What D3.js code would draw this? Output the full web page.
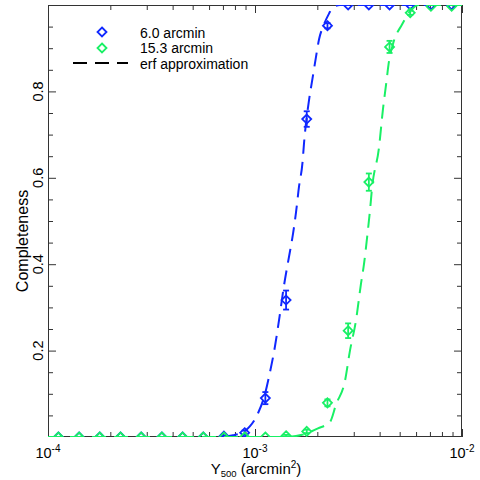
<!DOCTYPE html>
<html>
<head>
<meta charset="utf-8">
<script src="https://cdn.jsdelivr.net/npm/d3@7/dist/d3.min.js"></script>
<style>
  html, body { margin: 0; padding: 0; background: #fff; }
  svg { display: block; font-family: "Liberation Sans", Arial, Helvetica, sans-serif; }
</style>
</head>
<body>
<svg id="chart" width="480" height="480"></svg>
<script>
// ---------------- data ----------------
const binCenters = [1.122e-4, 1.413e-4, 1.778e-4, 2.239e-4, 2.818e-4, 3.548e-4, 4.467e-4, 5.623e-4, 7.079e-4, 8.913e-4,
                    1.122e-3, 1.413e-3, 1.778e-3, 2.239e-3, 2.818e-3, 3.548e-3, 4.467e-3, 5.623e-3, 7.079e-3, 8.913e-3];
const blueValues  = [0, 0, 0, 0, 0, 0, 0, 0, 0.002, 0.010, 0.090, 0.317, 0.736, 0.952, 1, 1, 1, 1, 1, 1];
const blueErrors  = [0, 0, 0, 0, 0, 0, 0, 0, 0.002, 0.005, 0.014, 0.022, 0.018, 0.006, 0, 0, 0, 0, 0, 0];
const greenValues = [0, 0, 0, 0, 0, 0, 0, 0, 0, 0, 0, 0.003, 0.013, 0.079, 0.246, 0.590, 0.903, 0.982, 0.997, 0.997];
const greenErrors = [0, 0, 0, 0, 0, 0, 0, 0, 0, 0, 0, 0.002, 0.004, 0.008, 0.017, 0.020, 0.014, 0.005, 0, 0];

const blueCurveX = [1.0e-4, 6.20e-4, 7.00e-4, 7.83e-4, 8.46e-4, 9.46e-4, 1.034e-3, 1.118e-3, 1.181e-3, 1.249e-3, 1.306e-3,
                    1.380e-3, 1.476e-3, 1.526e-3, 1.578e-3, 1.632e-3, 1.696e-3, 1.725e-3, 1.824e-3, 1.896e-3, 1.971e-3,
                    2.038e-3, 2.154e-3, 2.278e-3, 2.381e-3, 2.574e-3, 1.0e-2];
const blueCurveY = [0, 0, 0.001, 0.004, 0.008, 0.025, 0.055, 0.100, 0.150, 0.210, 0.270,
                    0.350, 0.430, 0.470, 0.520, 0.580, 0.635, 0.680, 0.780, 0.830, 0.880,
                    0.920, 0.955, 0.980, 0.995, 1.0, 1.0];
const greenCurveX = [1.0e-4, 1.40e-3, 1.687e-3, 2.015e-3, 2.303e-3, 2.462e-3, 2.721e-3, 2.876e-3, 3.075e-3, 3.251e-3,
                     3.361e-3, 3.476e-3, 3.594e-3, 3.674e-3, 3.972e-3, 4.154e-3, 4.295e-3, 4.440e-3, 4.642e-3, 5.131e-3,
                     5.610e-3, 6.130e-3, 1.0e-2];
const greenCurveY = [0, 0, 0.005, 0.020, 0.035, 0.075, 0.130, 0.200, 0.270, 0.355,
                     0.400, 0.460, 0.525, 0.575, 0.670, 0.760, 0.815, 0.870, 0.910, 0.955,
                     0.985, 1.0, 1.0];

const seriesNames = ["6.0 arcmin", "15.3 arcmin", "erf approximation"];
const xMajorTicks = [1e-4, 1e-3, 1e-2];
const xTickExponents = ["-4", "-3", "-2"];
const xMinorTicks = [2e-4, 3e-4, 4e-4, 5e-4, 6e-4, 7e-4, 8e-4, 9e-4, 2e-3, 3e-3, 4e-3, 5e-3, 6e-3, 7e-3, 8e-3, 9e-3];
const yMajorTicks = [0.2, 0.4, 0.6, 0.8];
const yTickLabels = ["0.2", "0.4", "0.6", "0.8"];
const yMinorTicks = [0.05, 0.1, 0.15, 0.25, 0.3, 0.35, 0.45, 0.5, 0.55, 0.65, 0.7, 0.75, 0.85, 0.9, 0.95];

// ---------------- layout ----------------
const L = 48, R = 462, T = 5, B = 437;
const BLUE = "#1028ff", GREEN = "#19f065", AXIS = "#333";

const svg = d3.select("#chart");
const x = d3.scaleLog().domain([1e-4, 1e-2]).range([L, R]);
const y = d3.scaleLinear().domain([0, 1]).range([B, T]);

svg.append("defs").append("clipPath").attr("id", "plotclip")
  .append("rect").attr("x", L).attr("y", T).attr("width", R - L).attr("height", B - T);

// axes (ticks inward)
function styleAxis(g) {
  g.select(".domain").remove();
  g.selectAll(".tick line").attr("stroke", AXIS).attr("stroke-width", 1);
  g.selectAll(".tick text").remove();
}
svg.append("g").attr("transform", `translate(0,${B})`).call(d3.axisBottom(x).tickValues(xMajorTicks).tickSize(-8)).call(styleAxis);
svg.append("g").attr("transform", `translate(0,${B})`).call(d3.axisBottom(x).tickValues(xMinorTicks).tickSize(-5)).call(styleAxis);
svg.append("g").attr("transform", `translate(0,${T})`).call(d3.axisTop(x).tickValues(xMajorTicks).tickSize(-8)).call(styleAxis);
svg.append("g").attr("transform", `translate(0,${T})`).call(d3.axisTop(x).tickValues(xMinorTicks).tickSize(-5)).call(styleAxis);
svg.append("g").attr("transform", `translate(${L},0)`).call(d3.axisLeft(y).tickValues(yMajorTicks).tickSize(-8)).call(styleAxis);
svg.append("g").attr("transform", `translate(${L},0)`).call(d3.axisLeft(y).tickValues(yMinorTicks).tickSize(-5)).call(styleAxis);
svg.append("g").attr("transform", `translate(${R},0)`).call(d3.axisRight(y).tickValues(yMajorTicks).tickSize(-8)).call(styleAxis);
svg.append("g").attr("transform", `translate(${R},0)`).call(d3.axisRight(y).tickValues(yMinorTicks).tickSize(-5)).call(styleAxis);

// frame
svg.append("rect").attr("x", L + 0.5).attr("y", T + 0.5).attr("width", R - L - 1).attr("height", B - T - 1)
  .attr("fill", "none").attr("stroke", AXIS).attr("stroke-width", 1);

// x tick labels 10^n
const xl = svg.append("g").selectAll("text").data(xMajorTicks).join("text")
  .attr("x", d => x(d)).attr("y", 458).attr("text-anchor", "middle")
  .attr("font-size", 14.5).attr("fill", "#000");
xl.append("tspan").text("10");
xl.append("tspan").attr("font-size", 10).attr("dy", -6).text((d, i) => xTickExponents[i]);

// y tick labels (rotated)
svg.append("g").selectAll("text").data(yMajorTicks).join("text")
  .attr("transform", d => `translate(43,${y(d)}) rotate(-90)`)
  .attr("text-anchor", "middle").attr("font-size", 14.5).attr("fill", "#000")
  .text((d, i) => yTickLabels[i]);

// axis titles
const xt = svg.append("text").attr("x", 256).attr("y", 474).attr("text-anchor", "middle")
  .attr("font-size", 15).attr("fill", "#000");
xt.append("tspan").text("Y");
xt.append("tspan").attr("font-size", 9.5).attr("dy", 3).text("500");
xt.append("tspan").attr("dy", -3).text(" (arcmin");
xt.append("tspan").attr("font-size", 10).attr("dy", -6).text("2");
xt.append("tspan").attr("dy", 6).text(")");

svg.append("text").attr("transform", "translate(28,241) rotate(-90)")
  .attr("text-anchor", "middle").attr("font-size", 16).attr("fill", "#000").text("Completeness");

// plot content
const plot = svg.append("g").attr("clip-path", "url(#plotclip)");
const line = d3.line().x(d => x(d[0])).y(d => y(d[1])).curve(d3.curveMonotoneX);
const diamond = "M0,-4.5L4.5,0L0,4.5L-4.5,0Z";

function drawSeries(vals, errs, color, cx, cy) {
  plot.append("path").datum(cx.map((v, i) => [v, cy[i]]))
    .attr("d", line).attr("fill", "none").attr("stroke", color)
    .attr("stroke-width", 2).attr("stroke-dasharray", "14,8");
  const pts = binCenters.map((c, i) => ({ c, v: vals[i], e: errs[i] }));
  const eb = plot.append("g").attr("stroke", color).attr("stroke-width", 1.8);
  pts.filter(p => p.e > 0).forEach(p => {
    eb.append("line").attr("x1", x(p.c)).attr("x2", x(p.c)).attr("y1", y(p.v - p.e)).attr("y2", y(p.v + p.e));
    eb.append("line").attr("x1", x(p.c) - 3).attr("x2", x(p.c) + 3).attr("y1", y(p.v - p.e)).attr("y2", y(p.v - p.e));
    eb.append("line").attr("x1", x(p.c) - 3).attr("x2", x(p.c) + 3).attr("y1", y(p.v + p.e)).attr("y2", y(p.v + p.e));
  });
  plot.append("g").selectAll("path").data(pts).join("path")
    .attr("d", diamond).attr("transform", p => `translate(${x(p.c)},${y(p.v)})`)
    .attr("fill", "none").attr("stroke", color).attr("stroke-width", 1.8);
}
drawSeries(blueValues, blueErrors, BLUE, blueCurveX, blueCurveY);
drawSeries(greenValues, greenErrors, GREEN, greenCurveX, greenCurveY);

// legend
const lg = svg.append("g");
lg.append("path").attr("d", diamond).attr("transform", "translate(102,32)").attr("fill", "none").attr("stroke", BLUE).attr("stroke-width", 1.8);
lg.append("path").attr("d", diamond).attr("transform", "translate(102,48)").attr("fill", "none").attr("stroke", GREEN).attr("stroke-width", 1.8);
lg.append("line").attr("x1", 73).attr("x2", 128).attr("y1", 63).attr("y2", 63).attr("stroke", "#000").attr("stroke-width", 2).attr("stroke-dasharray", "14,8");
lg.selectAll("text").data(seriesNames).join("text")
  .attr("x", 140).attr("y", (d, i) => 37.5 + i * 15.5).attr("font-size", 14).attr("fill", "#000").text(d => d);
</script>
</body>
</html>
